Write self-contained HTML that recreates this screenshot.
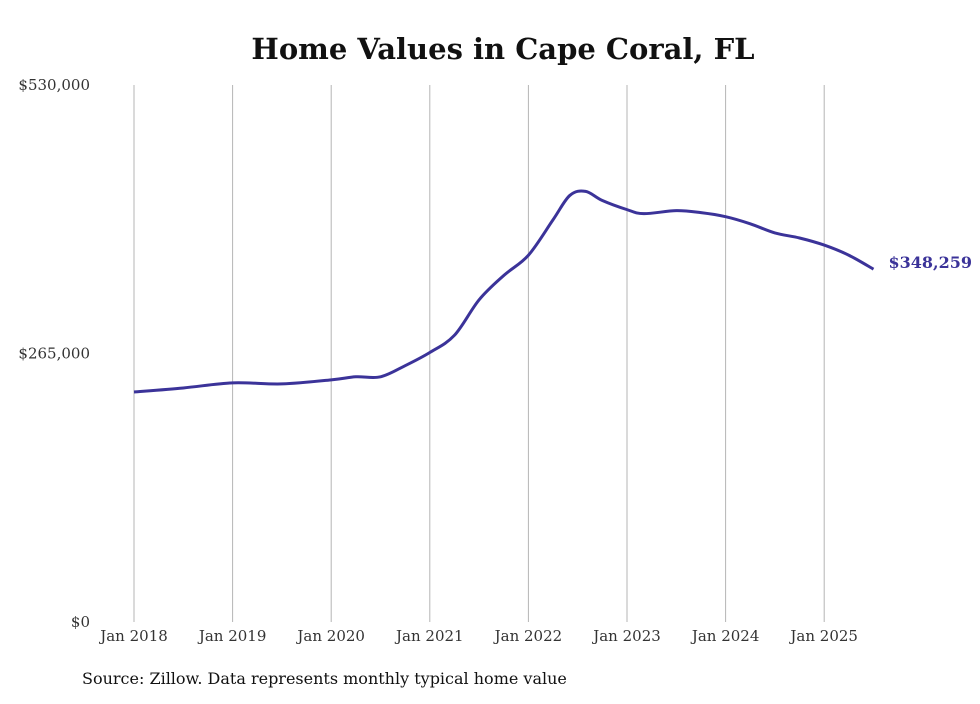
<!DOCTYPE html>
<html><head><meta charset="utf-8"><style>
body{margin:0;background:#fff;}
svg text{font-family:"DejaVu Serif","Liberation Serif",serif;}
</style></head><body>
<svg id="chart" width="980" height="699">
<text x="503" y="59" text-anchor="middle" font-size="29" font-weight="bold" fill="#111">Home Values in Cape Coral, FL</text>
<g id="grid"></g><g id="yt"></g><g id="xt"></g><g id="ln"></g>
<text x="82" y="684" font-size="16" fill="#111">Source: Zillow. Data represents monthly typical home value</text>
</svg>
<script>
const dates=[2018,2018.5,2019,2019.5,2020,2020.25,2020.5,2020.75,2021,2021.25,2021.5,2021.75,2022,2022.25,2022.42,2022.58,2022.75,2023,2023.17,2023.5,2023.75,2024,2024.25,2024.5,2024.75,2025,2025.25,2025.5];
const values=[227000,231000,236000,235000,239000,242000,242000,253000,266000,283000,318000,342000,362000,397000,421000,425000,416000,407000,403000,406000,404000,400000,393000,384000,379000,372000,362000,348259];
const yTicks=[0,265000,530000];
const yLabels=["$0","$265,000","$530,000"];
const xTicks=[2018,2019,2020,2021,2022,2023,2024,2025];
const xLabels=["Jan 2018","Jan 2019","Jan 2020","Jan 2021","Jan 2022","Jan 2023","Jan 2024","Jan 2025"];
const lastLabel="$348,259";
const NS="http://www.w3.org/2000/svg";
const X=d=>134+(d-2018)*98.6, Y=v=>622-v/530000*537;
function mk(t,a,p){const e=document.createElementNS(NS,t);for(const k in a)e.setAttribute(k,a[k]);p.appendChild(e);return e;}
const g=document.getElementById('grid'),yt=document.getElementById('yt'),xt=document.getElementById('xt'),ln=document.getElementById('ln');
xTicks.forEach((d,i)=>{
 const l=mk('line',{x1:X(d),x2:X(d),y1:85,y2:622,stroke:'#b5b5b5','stroke-width':1},g);
 
 
 const t=mk('text',{x:X(d),y:641,'text-anchor':'middle','font-size':15,fill:'#333'},xt);t.textContent=xLabels[i];
 
 
});
yTicks.forEach((v,i)=>{
 const t=mk('text',{x:90,y:Y(v)+5,'text-anchor':'end','font-size':15,fill:'#333'},yt);t.textContent=yLabels[i];
 
 
});
const pts=dates.map((d,i)=>[X(d),Y(values[i])]);
let p='M'+pts[0][0]+','+pts[0][1];
for(let i=0;i<pts.length-1;i++){const p0=pts[i-1]||pts[i],p1=pts[i],p2=pts[i+1],p3=pts[i+2]||p2;
 p+=` C${p1[0]+(p2[0]-p0[0])/6},${p1[1]+(p2[1]-p0[1])/6} ${p2[0]-(p3[0]-p1[0])/6},${p2[1]-(p3[1]-p1[1])/6} ${p2[0]},${p2[1]}`;}
const path=mk('path',{d:p,fill:'none',stroke:'#3b3399','stroke-width':3,'stroke-linejoin':'round'},ln);


const last=pts[pts.length-1];
const lt=mk('text',{x:last[0]+15,y:last[1]-1,'font-size':16,'font-weight':'bold',fill:'#3b3399'},ln);lt.textContent=lastLabel;


</script>
</body></html>
